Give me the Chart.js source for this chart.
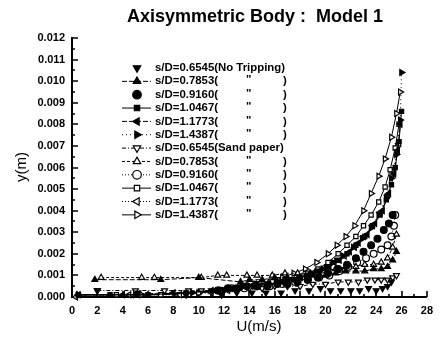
<!DOCTYPE html>
<html>
<head>
<meta charset="utf-8">
<script src="https://cdn.jsdelivr.net/npm/chart.js"></script>
<style>
  html, body { margin: 0; padding: 0; background: #fff; }
  #wrap { width: 440px; height: 339px; }
</style>
</head>
<body>
<div id="wrap"><canvas id="bodyChart" width="440" height="339"></canvas></div>
<script>
// legend texts, top to bottom
const seriesNames = [
  's/D=0.6545(No Tripping)', 's/D=0.7853(', 's/D=0.9160(', 's/D=1.0467(', 's/D=1.1773(', 's/D=1.4387(',
  's/D=0.6545(Sand paper)', 's/D=0.7853(', 's/D=0.9160(', 's/D=1.0467(', 's/D=1.1773(', 's/D=1.4387('
];

const xTicks = [0, 2, 4, 6, 8, 10, 12, 14, 16, 18, 20, 22, 24, 26, 28];
const yTicks = [0, 0.001, 0.002, 0.003, 0.004, 0.005, 0.006, 0.007, 0.008, 0.009, 0.010, 0.011, 0.012];

// no tripping
const uNt0654 = [2.0, 5.2, 9.0, 11.8, 13.0, 14.2, 15.3, 16.5, 17.6, 18.7, 19.6, 20.4, 21.2, 22.0, 22.7, 23.4, 24.0, 24.5, 24.9, 25.2];
const yNt0654 = [0.0003, 0.0002, 0.0001, 0.0001, 0.0002, 0.0002, 0.0002, 0.0002, 0.0003, 0.0003, 0.0004, 0.0003, 0.0003, 0.0003, 0.0003, 0.0004, 0.0003, 0.0004, 0.0005, 0.0007];

const uNt0785 = [1.8, 7.0, 10.0, 13.3, 14.0, 15.0, 16.0, 17.0, 18.0, 19.0, 20.0, 20.8, 21.6, 22.4, 23.1, 23.8, 24.4, 24.9, 25.3, 25.6];
const yNt0785 = [0.0008, 0.0008, 0.0009, 0.0007, 0.0008, 0.0008, 0.0009, 0.0009, 0.0009, 0.0010, 0.0010, 0.0011, 0.0012, 0.0012, 0.0012, 0.0013, 0.0013, 0.0014, 0.0017, 0.0021];

const uNt0916 = [11.5, 12.3, 13.0, 13.8, 14.6, 15.4, 16.2, 17.0, 17.8, 18.6, 19.4, 20.2, 21.0, 21.7, 22.4, 23.0, 23.6, 24.1, 24.6, 25.0, 25.3];
const yNt0916 = [0.0003, 0.0004, 0.0004, 0.0005, 0.0005, 0.0005, 0.0006, 0.0006, 0.0007, 0.0008, 0.0009, 0.0011, 0.0013, 0.0015, 0.0018, 0.0021, 0.0024, 0.0027, 0.0031, 0.0034, 0.0038];

const uNt1047 = [0.5, 3.0, 6.0, 9.0, 11.5, 12.5, 13.5, 14.5, 15.5, 16.5, 17.5, 18.5, 19.3, 20.1, 20.9, 21.7, 22.4, 23.1, 23.7, 24.3, 24.8, 25.2, 25.5, 25.8, 26.0];
const yNt1047 = [0.0001, 0.0001, 0.0001, 0.0002, 0.0003, 0.0004, 0.0005, 0.0006, 0.0006, 0.0007, 0.0008, 0.0010, 0.0012, 0.0014, 0.0017, 0.0020, 0.0024, 0.0028, 0.0033, 0.0038, 0.0045, 0.0052, 0.0060, 0.0072, 0.0086];

const uNt1177 = [0.5, 4.0, 8.0, 11.0, 12.2, 13.3, 14.4, 15.5, 16.6, 17.6, 18.6, 19.5, 20.3, 21.1, 21.9, 22.6, 23.3, 23.9, 24.5, 25.0, 25.4, 25.7, 25.9];
const yNt1177 = [0.0001, 0.0001, 0.0002, 0.0003, 0.0004, 0.0005, 0.0006, 0.0006, 0.0007, 0.0008, 0.0010, 0.0012, 0.0014, 0.0017, 0.0021, 0.0025, 0.0029, 0.0034, 0.0040, 0.0048, 0.0057, 0.0068, 0.0080];

const uNt1439 = [0.5, 5.0, 9.5, 12.0, 13.2, 14.4, 15.6, 16.8, 17.9, 18.9, 19.8, 20.6, 21.4, 22.2, 22.9, 23.6, 24.2, 24.8, 25.2, 25.6, 25.9, 26.0];
const yNt1439 = [0.0001, 0.0001, 0.0002, 0.0003, 0.0004, 0.0005, 0.0006, 0.0007, 0.0009, 0.0011, 0.0013, 0.0016, 0.0019, 0.0023, 0.0027, 0.0032, 0.0038, 0.0046, 0.0055, 0.0066, 0.0082, 0.0104];

// sand paper
const uSp0654 = [2.0, 5.0, 7.3, 9.2, 10.2, 11.0, 12.0, 13.0, 14.0, 15.0, 16.0, 17.0, 18.0, 19.0, 20.0, 21.0, 21.8, 22.6, 23.3, 23.9, 24.4, 24.9, 25.3, 25.6];
const ySp0654 = [0.0003, 0.0003, 0.0003, 0.0003, 0.0003, 0.0003, 0.0003, 0.0004, 0.0004, 0.0004, 0.0005, 0.0005, 0.0005, 0.0006, 0.0006, 0.0007, 0.0007, 0.0007, 0.0008, 0.0008, 0.0008, 0.0008, 0.0009, 0.0010];

const uSp0785 = [2.3, 5.5, 6.5, 10.2, 11.5, 12.2, 13.8, 14.6, 15.8, 16.8, 17.8, 18.8, 19.8, 20.8, 21.6, 22.4, 23.1, 23.8, 24.4, 24.9, 25.3, 25.6];
const ySp0785 = [0.0009, 0.0009, 0.0009, 0.0009, 0.0010, 0.0010, 0.0010, 0.0010, 0.0010, 0.0011, 0.0011, 0.0011, 0.0012, 0.0013, 0.0014, 0.0014, 0.0015, 0.0015, 0.0016, 0.0018, 0.0023, 0.0029];

const uSp0916 = [11.6, 12.6, 13.6, 14.6, 15.6, 16.6, 17.6, 18.6, 19.5, 20.3, 21.1, 21.8, 22.5, 23.2, 23.8, 24.4, 24.9, 25.2, 25.4, 25.5];
const ySp0916 = [0.0003, 0.0004, 0.0004, 0.0005, 0.0005, 0.0006, 0.0007, 0.0008, 0.0009, 0.0010, 0.0012, 0.0014, 0.0016, 0.0018, 0.0020, 0.0022, 0.0024, 0.0028, 0.0033, 0.0038];

const uSp1047 = [0.5, 3.5, 7.0, 10.0, 11.8, 12.8, 13.8, 14.8, 15.8, 16.8, 17.7, 18.6, 19.4, 20.2, 21.0, 21.7, 22.4, 23.0, 23.6, 24.2, 24.7, 25.1, 25.5, 25.8];
const ySp1047 = [0.0001, 0.0001, 0.0001, 0.0002, 0.0003, 0.0004, 0.0005, 0.0006, 0.0007, 0.0008, 0.0009, 0.0011, 0.0013, 0.0016, 0.0020, 0.0024, 0.0028, 0.0033, 0.0038, 0.0044, 0.0051, 0.0059, 0.0069, 0.0080];

const uSp1177 = [0.3, 4.5, 8.5, 11.0, 12.3, 13.5, 14.7, 15.9, 17.0, 18.0, 19.0, 19.9, 20.7, 21.5, 22.3, 23.0, 23.7, 24.3, 24.9, 25.4, 25.8];
const ySp1177 = [0.0000, 0.0001, 0.0001, 0.0002, 0.0003, 0.0004, 0.0005, 0.0006, 0.0007, 0.0009, 0.0011, 0.0013, 0.0016, 0.0019, 0.0023, 0.0028, 0.0033, 0.0039, 0.0047, 0.0058, 0.0071];

const uSp1439 = [0.5, 5.5, 10.0, 12.0, 13.3, 14.5, 15.6, 16.6, 17.5, 18.4, 19.3, 20.2, 20.9, 21.6, 22.3, 23.0, 23.6, 24.2, 24.7, 25.2, 25.6, 25.9];
const ySp1439 = [0.0001, 0.0001, 0.0002, 0.0003, 0.0004, 0.0006, 0.0007, 0.0009, 0.0011, 0.0013, 0.0016, 0.0020, 0.0024, 0.0028, 0.0033, 0.0040, 0.0048, 0.0056, 0.0064, 0.0074, 0.0085, 0.0095];

const pairs = (us, ys) => us.map((u, i) => ({ x: u, y: ys[i] }));

// marker shape, fill and line dash for each series (dash null = no line)
const looks = [
  { u: uNt0654, y: yNt0654, style: 'triangle', rot: 180, filled: true,  dash: null },
  { u: uNt0785, y: yNt0785, style: 'triangle', rot: 0,   filled: true,  dash: [5, 2] },
  { u: uNt0916, y: yNt0916, style: 'circle',   rot: 0,   filled: true,  dash: null },
  { u: uNt1047, y: yNt1047, style: 'rect',     rot: 0,   filled: true,  dash: [] },
  { u: uNt1177, y: yNt1177, style: 'triangle', rot: -90, filled: true,  dash: [5, 2] },
  { u: uNt1439, y: yNt1439, style: 'triangle', rot: 90,  filled: true,  dash: [1, 3] },
  { u: uSp0654, y: ySp0654, style: 'triangle', rot: 180, filled: false, dash: [4, 2, 1, 2] },
  { u: uSp0785, y: ySp0785, style: 'triangle', rot: 0,   filled: false, dash: [3, 2] },
  { u: uSp0916, y: ySp0916, style: 'circle',   rot: 0,   filled: false, dash: [1, 2] },
  { u: uSp1047, y: ySp1047, style: 'rect',     rot: 0,   filled: false, dash: [] },
  { u: uSp1177, y: ySp1177, style: 'triangle', rot: -90, filled: false, dash: [1, 2] },
  { u: uSp1439, y: ySp1439, style: 'triangle', rot: 90,  filled: false, dash: [] }
];

const datasets = looks.map((s, i) => ({
  label: seriesNames[i],
  data: pairs(s.u, s.y),
  showLine: s.dash !== null,
  borderDash: s.dash || [],
  borderColor: '#000',
  borderWidth: 1,
  pointStyle: s.style,
  rotation: s.rot,
  pointRadius: s.style === 'rect' ? 3 : 3.4,
  pointBorderWidth: 1.2,
  pointBorderColor: '#000',
  pointBackgroundColor: s.filled ? '#000' : '#fff',
  clip: false
}));

const ink = '#000';
const tickFont = { family: 'Liberation Sans, Arial, sans-serif', size: 11, weight: 'bold' };

// axis lines with inward ticks, titles and the inset legend
const decorations = {
  id: 'decorations',
  beforeDatasetsDraw(chart) {
    const { ctx, chartArea: a, scales: { x, y } } = chart;
    ctx.save();
    ctx.strokeStyle = ink;
    ctx.lineWidth = 2;
    ctx.beginPath();
    ctx.moveTo(a.left, a.top - 1);
    ctx.lineTo(a.left, a.bottom);
    ctx.lineTo(a.right, a.bottom);
    ctx.stroke();
    ctx.lineWidth = 1.6;
    ctx.beginPath();
    for (let k = 0; k <= 28; k++) {
      const px = Math.round(x.getPixelForValue(k));
      const len = k % 2 === 0 ? 6 : 3;
      ctx.moveTo(px, a.bottom);
      ctx.lineTo(px, a.bottom - len);
    }
    for (let k = 0; k <= 24; k++) {
      const py = Math.round(y.getPixelForValue(k * 0.0005));
      const len = k % 2 === 0 ? 6 : 3;
      ctx.moveTo(a.left, py);
      ctx.lineTo(a.left + len, py);
    }
    ctx.stroke();
    ctx.restore();
  },
  afterDraw(chart) {
    const { ctx } = chart;
    ctx.save();
    ctx.fillStyle = ink;
    ctx.textBaseline = 'middle';
    ctx.textAlign = 'center';
    ctx.font = 'bold 18px "Liberation Sans", Arial, sans-serif';
    ctx.fillText('Axisymmetric Body :  Model 1', 255, 17);
    ctx.font = '15px "Liberation Sans", Arial, sans-serif';
    ctx.fillText('U(m/s)', 259, 327);
    ctx.save();
    ctx.translate(22, 167);
    ctx.rotate(-Math.PI / 2);
    ctx.fillText('y(m)', 0, 0);
    ctx.restore();

    // legend
    const draw = Chart.helpers.drawPoint;
    ctx.font = 'bold 11.4px "Liberation Sans", Arial, sans-serif';
    ctx.textAlign = 'left';
    looks.forEach((s, i) => {
      const ly = 68 + i * 13.35;
      if (s.dash !== null) {
        ctx.save();
        ctx.strokeStyle = ink;
        ctx.lineWidth = 1;
        ctx.setLineDash(s.dash);
        ctx.beginPath();
        ctx.moveTo(122, ly);
        ctx.lineTo(151, ly);
        ctx.stroke();
        ctx.restore();
      }
      ctx.save();
      ctx.setLineDash([]);
      ctx.strokeStyle = ink;
      ctx.fillStyle = s.filled ? ink : '#fff';
      ctx.lineWidth = 1.2;
      draw(ctx, { pointStyle: s.style, rotation: s.rot, radius: s.style === 'rect' ? 3.8 : 4.3, borderWidth: 1 }, 137, ly);
      ctx.restore();
      ctx.fillStyle = ink;
      ctx.fillText(seriesNames[i], 155, ly);
      if (i !== 0 && i !== 6) {
        ctx.fillText('"', 246, ly - 1);
        ctx.fillText(')', 283, ly);
      }
    });
    ctx.restore();
  }
};

new Chart(document.getElementById('bodyChart'), {
  type: 'scatter',
  data: { datasets: datasets },
  options: {
    responsive: false,
    animation: false,
    devicePixelRatio: 1,
    layout: { padding: { top: 38, right: 8, left: 0, bottom: 0 } },
    plugins: {
      legend: { display: false },
      title: { display: false },
      tooltip: { enabled: false }
    },
    scales: {
      x: {
        type: 'linear',
        min: xTicks[0],
        max: xTicks[xTicks.length - 1],
        afterFit: (scale) => { scale.height = 42; },
        afterBuildTicks: (scale) => { scale.ticks = xTicks.map(v => ({ value: v })); },
        grid: { display: false, drawTicks: false },
        border: { display: false },
        ticks: { color: ink, font: tickFont, padding: 7, maxRotation: 0, autoSkip: false }
      },
      y: {
        type: 'linear',
        min: yTicks[0],
        max: yTicks[yTicks.length - 1],
        afterFit: (scale) => { scale.width = 72; },
        afterBuildTicks: (scale) => { scale.ticks = yTicks.map(v => ({ value: v })); },
        grid: { display: false, drawTicks: false },
        border: { display: false },
        ticks: { color: ink, font: tickFont, padding: 7, autoSkip: false, callback: (v) => Number(v).toFixed(3) }
      }
    }
  },
  plugins: [decorations]
});
</script>
</body>
</html>
